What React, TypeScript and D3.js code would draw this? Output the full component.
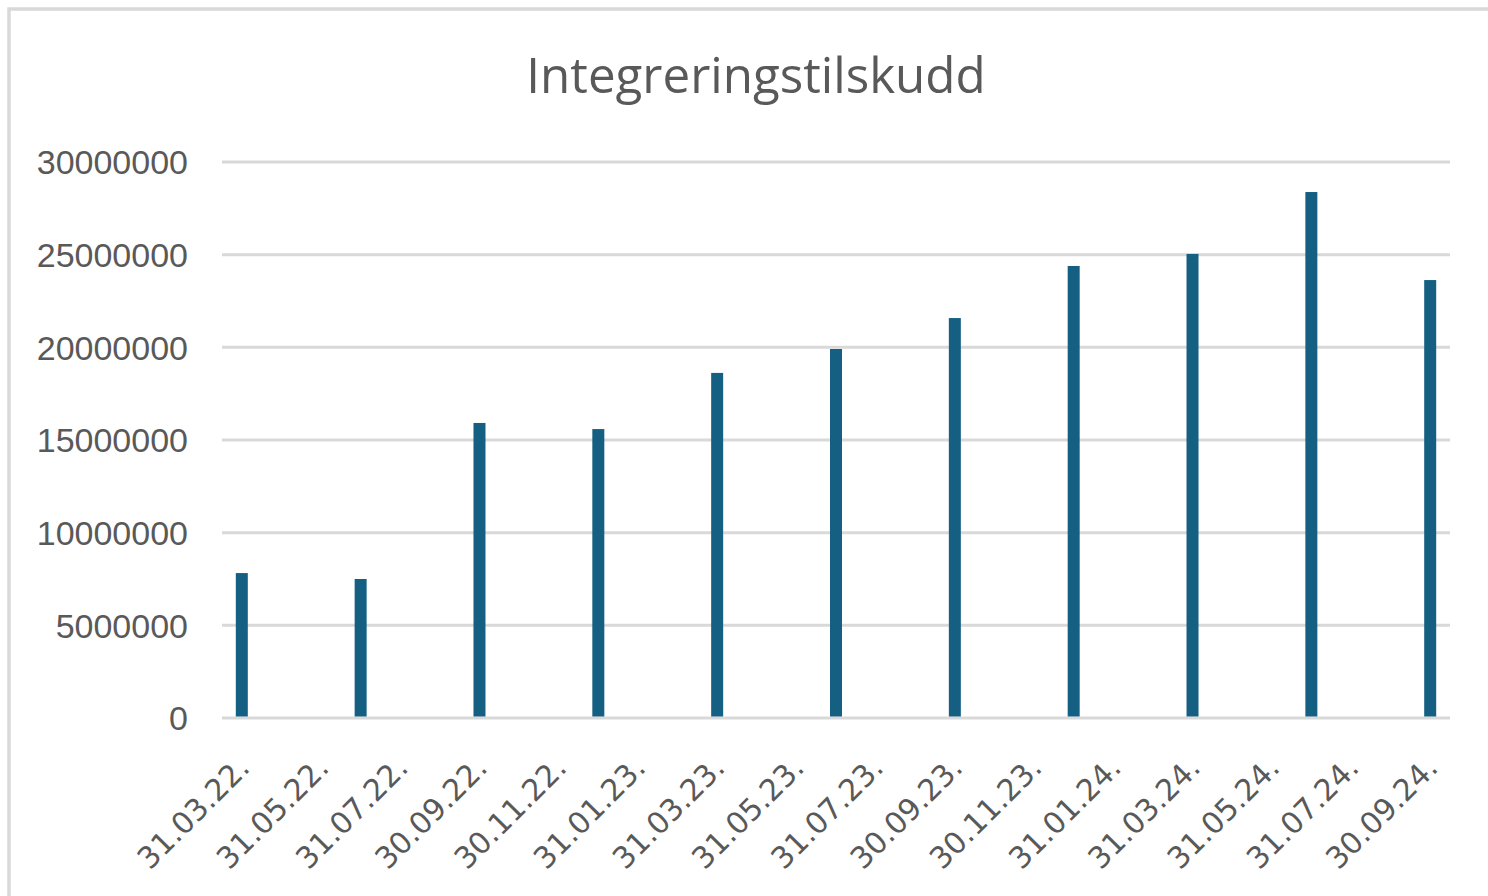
import React, { useEffect, useRef } from 'react';
import * as d3 from 'd3';

const title = 'Integreringstilskudd';

// bar dates (dd.mm.yy) and values
const barDates = ['31.03.22', '30.06.22', '30.09.22', '31.12.22', '31.03.23', '30.06.23', '30.09.23', '31.12.23', '31.03.24', '30.06.24', '30.09.24'];
const barValues = [7820000, 7500000, 15920000, 15590000, 18620000, 19910000, 21580000, 24390000, 25040000, 28380000, 23630000];

// x tick labels (every second month)
const tickLabels = ['31.03.22.', '31.05.22.', '31.07.22.', '30.09.22.', '30.11.22.', '31.01.23.', '31.03.23.', '31.05.23.', '31.07.23.', '30.09.23.', '30.11.23.', '31.01.24.', '31.03.24.', '31.05.24.', '31.07.24.', '30.09.24.'];

const yTicks = [0, 5000000, 10000000, 15000000, 20000000, 25000000, 30000000];

export default function App() {
    const svgRef = useRef<SVGSVGElement>(null);

    useEffect(() => {
        const width = 1488;
        const height = 896;
        const margin = { top: 162, right: 38, bottom: 178, left: 222 };

        const svg = d3.select(svgRef.current)
            .attr('width', width)
            .attr('height', height);
        svg.selectAll('*').remove();

        // outer chart border (runs off the right and bottom edges)
        svg.append('rect')
            .attr('x', 9)
            .attr('y', 9)
            .attr('width', width + 20)
            .attr('height', height + 20)
            .attr('fill', '#fff')
            .attr('stroke', '#d9d9d9')
            .attr('stroke-width', 3.5);

        svg.append('text')
            .attr('x', 756)
            .attr('y', 93)
            .attr('text-anchor', 'middle')
            .style('font-family', 'Open Sans, Noto Sans, sans-serif')
            .style('font-size', '49.3px')
            .attr('fill', '#595959')
            .text(title);

        const parse = d3.timeParse('%d.%m.%y');
        const monthKey = (s: string) => d3.timeFormat('%Y-%m')(parse(s.replace(/\.$/, '')) as Date);

        // one band per month on the date axis
        const months = d3.timeMonths(new Date(2022, 2, 1), new Date(2024, 9, 1)).map(d => d3.timeFormat('%Y-%m')(d));

        const x = d3.scaleBand()
            .domain(months)
            .range([margin.left, width - margin.right])
            .padding(0);

        const y = d3.scaleLinear()
            .domain([0, 30000000])
            .range([height - margin.bottom, margin.top]);

        const cx = (s: string) => (x(monthKey(s)) as number) + x.bandwidth() / 2;

        // gridlines
        svg.append('g')
            .selectAll('line')
            .data(yTicks)
            .enter().append('line')
            .attr('x1', margin.left)
            .attr('x2', width - margin.right)
            .attr('y1', d => y(d))
            .attr('y2', d => y(d))
            .attr('stroke', '#d9d9d9')
            .attr('stroke-width', 3);

        // y labels
        svg.append('g')
            .selectAll('text')
            .data(yTicks)
            .enter().append('text')
            .attr('x', 188)
            .attr('y', d => y(d))
            .attr('dy', '0.36em')
            .attr('text-anchor', 'end')
            .style('font-family', 'Liberation Sans, Arial, sans-serif')
            .style('font-size', '34px')
            .attr('fill', '#595959')
            .text(d => String(d));

        // bars
        const barWidth = 12;
        svg.append('g')
            .selectAll('rect')
            .data(barDates.map((d, i) => ({ date: d, value: barValues[i] })))
            .enter().append('rect')
            .attr('x', d => cx(d.date) - barWidth / 2)
            .attr('width', barWidth)
            .attr('y', d => y(d.value))
            .attr('height', d => y(0) - y(d.value) - 1.5)
            .attr('fill', '#156082');

        // x labels
        svg.append('g')
            .selectAll('text')
            .data(tickLabels)
            .enter().append('text')
            .attr('transform', d => `translate(${cx(d) + 2},762) rotate(-45)`)
            .attr('dy', '0.35em')
            .attr('text-anchor', 'end')
            .style('font-family', 'DejaVu Sans, sans-serif')
            .style('font-size', '30px')
            .attr('fill', '#595959')
            .text(d => d);
    }, []);

    return (
        <div style={{ position: 'fixed', left: 0, top: 0, width: 1488, height: 896, overflow: 'hidden', background: '#fff' }}>
            <svg ref={svgRef} style={{ display: 'block' }}></svg>
        </div>
    );
}
